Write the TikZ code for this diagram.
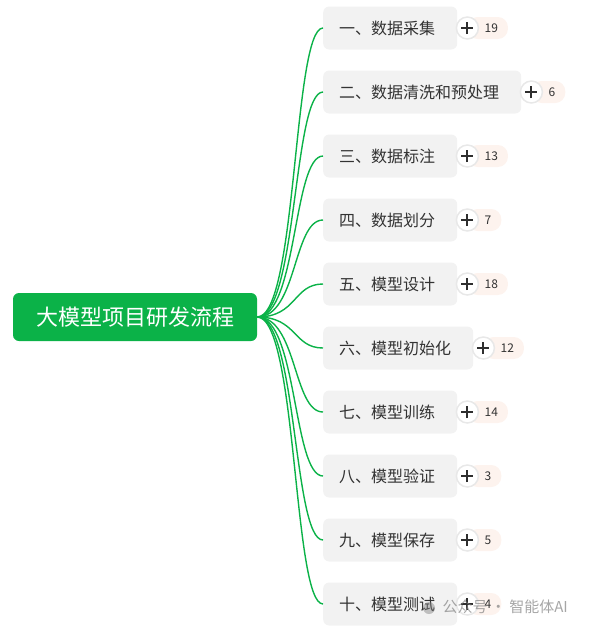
\documentclass[tikz,border=0pt]{standalone}
\usepackage{fontspec}
\setmainfont{Noto Sans CJK SC}
\usetikzlibrary{positioning}
\definecolor{rootgreen}{RGB}{11,178,72}
\definecolor{boxgray}{RGB}{242,242,242}
\definecolor{textgray}{RGB}{51,51,51}
\definecolor{badgepink}{RGB}{253,243,238}
\definecolor{ringgray}{RGB}{232,232,232}

\begin{document}
\begin{tikzpicture}[x=1pt,y=-1pt,
  rootbox/.style={fill=rootgreen, rounded corners=6pt, text=white, minimum width=244pt,
    minimum height=48pt, font=\fontsize{22}{26}\selectfont},
  stepbox/.style={fill=boxgray, rounded corners=6pt, text=textgray, anchor=west,
    inner xsep=16pt, minimum height=43pt, font=\fontsize{16}{19}\selectfont},
  branch/.style={rootgreen, line width=1.4pt},
  countpill/.style={fill=badgepink, rounded corners=10pt, anchor=west, minimum height=22pt,
    inner xsep=0pt, text=textgray, font=\fontsize{12}{14}\selectfont},
  plusdot/.style={circle, fill=white, draw=ringgray, line width=1.5pt, minimum size=22pt, inner sep=0pt},
  plusmark/.style={line width=2pt, textgray!90!black}]
  \useasboundingbox (0,0) rectangle (591,632);

  \node[rootbox] (rootNode) at (135,317) {大模型项目研发流程};

  \foreach \n/\steptext/\num in {1/一、数据采集/19, 2/二、数据清洗和预处理/6, 3/三、数据标注/13,
      4/四、数据划分/7, 5/五、模型设计/18, 6/六、模型初始化/12, 7/七、模型训练/14,
      8/八、模型验证/3, 9/九、模型保存/5, 10/十、模型测试/4} {
    \node[stepbox] (stepNode\n) at (323,{28+64*(\n-1)}) {\steptext\kern6pt};
    \draw[branch] (rootNode.east) .. controls +(40,0) and +(-30,0) .. (stepNode\n.west);
    \coordinate (plusPos\n) at ([xshift=10pt]stepNode\n.east);
    \node[countpill] (countNode\n) at (plusPos\n) {\kern17pt\num\kern10pt};
    \node[plusdot] (plusNode\n) at (plusPos\n) {};
    \draw[plusmark] ([xshift=-6pt]plusNode\n.center) -- ([xshift=6pt]plusNode\n.center);
    \draw[plusmark] ([yshift=-6pt]plusNode\n.center) -- ([yshift=6pt]plusNode\n.center);
  }

  % watermark
  \fill[gray, opacity=0.45] (429,608) circle (6pt);
  \node[text=gray, opacity=0.7, anchor=west, font=\fontsize{15}{18}\selectfont] (markNode) at (439,607) {公众号 · 智能体AI};
\end{tikzpicture}
\end{document}
